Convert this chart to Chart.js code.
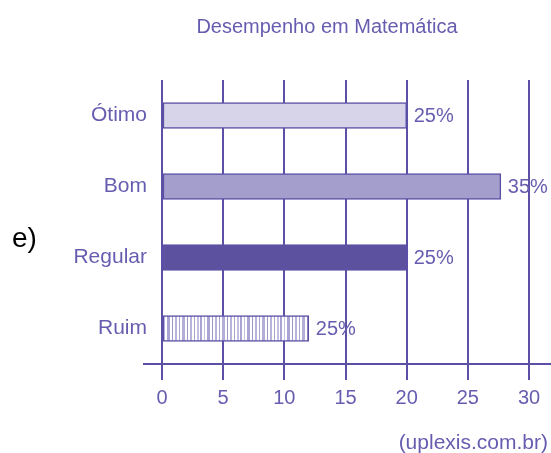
<!DOCTYPE html>
<html>
<head>
<meta charset="utf-8">
<script src="https://cdn.jsdelivr.net/npm/chart.js@4"></script>
<style>
    html, body { margin: 0; padding: 0; background: #fff; }
    #wrap { width: 551px; height: 453px; position: relative; }
</style>
</head>
<body>
<div id="wrap"><canvas id="chart"></canvas></div>
<script>
// dados do gráfico
const categories = ['Ótimo', 'Bom', 'Regular', 'Ruim'];
const values = [20, 27.7, 20, 12];
const pctLabels = ['25%', '35%', '25%', '25%'];
const tickValues = [0, 5, 10, 15, 20, 25, 30];

const ink = '#5b50a6';
const textColor = '#665db0';
const font = 'Liberation Sans, Arial, sans-serif';

// padrão listrado para a barra "Ruim"
function stripePattern() {
    const c = document.createElement('canvas');
    c.width = 40;
    c.height = 30;
    const g = c.getContext('2d');
    g.fillStyle = '#ffffff';
    g.fillRect(0, 0, 40, 30);
    const stripes = [[0, 2, '#aaa4d4'], [4, 1, '#c4c0e3'], [7, 3, '#aaa4d4'], [12, 1, '#9f98cf'],
        [15, 2, '#b8b3dc'], [19, 1, '#aaa4d4'], [22, 3, '#b3aed8'], [27, 1, '#9f98cf'],
        [30, 2, '#b8b3dc'], [34, 1, '#aaa4d4'], [37, 2, '#c4c0e3']];
    stripes.forEach(s => {
        g.fillStyle = s[2];
        g.fillRect(s[0], 0, s[1], 30);
    });
    return g.createPattern(c, 'repeat');
}

const fills = ['#d7d4ea', '#a49ecc', '#5c519f', stripePattern()];

// textos extras e linha do eixo
const extras = {
    id: 'extras',
    afterDraw(chart) {
        const ctx = chart.ctx;
        const area = chart.chartArea;
        ctx.save();

        // linha do eixo x, passa um pouco do zero à esquerda
        ctx.strokeStyle = ink;
        ctx.lineWidth = 2;
        ctx.beginPath();
        ctx.moveTo(area.left - 19, area.bottom);
        ctx.lineTo(chart.width, area.bottom);
        ctx.stroke();

        // rótulos de porcentagem
        ctx.fillStyle = textColor;
        ctx.font = '20px ' + font;
        ctx.textAlign = 'left';
        ctx.textBaseline = 'middle';
        chart.getDatasetMeta(0).data.forEach((bar, i) => {
            ctx.fillText(pctLabels[i], bar.x + 7, bar.y + 1);
        });

        // título
        ctx.textAlign = 'center';
        ctx.fillText('Desempenho em Matemática', 327, 27);

        // fonte
        ctx.textAlign = 'right';
        ctx.font = '21px ' + font;
        ctx.fillText('(uplexis.com.br)', 548, 443);

        // letra da alternativa
        ctx.fillStyle = '#000';
        ctx.font = '28px ' + font;
        ctx.textAlign = 'left';
        ctx.textBaseline = 'alphabetic';
        ctx.fillText('e)', 12, 247);
        ctx.restore();
    }
};

new Chart(document.getElementById('chart'), {
    type: 'bar',
    data: {
        labels: categories,
        datasets: [{
            data: values,
            backgroundColor: fills,
            borderColor: ink,
            borderWidth: 1.5,
            borderSkipped: false,
            barThickness: 26
        }]
    },
    options: {
        indexAxis: 'y',
        responsive: true,
        maintainAspectRatio: false,
        animation: false,
        layout: { padding: { top: 80, right: 22, left: 0, bottom: 0 } },
        plugins: {
            legend: { display: false },
            title: { display: false },
            tooltip: { enabled: false }
        },
        scales: {
            x: {
                min: 0,
                max: 30,
                afterBuildTicks: scale => {
                    scale.ticks = tickValues.map(v => ({ value: v }));
                },
                afterFit: scale => { scale.height = 89; },
                grid: {
                    color: ink,
                    lineWidth: 2,
                    drawTicks: true,
                    tickLength: 16
                },
                border: { display: false },
                ticks: {
                    color: textColor,
                    font: { family: font, size: 20 },
                    padding: 6
                }
            },
            y: {
                afterFit: scale => { scale.width = 162; },
                grid: { display: false, drawTicks: false },
                border: { display: false },
                ticks: {
                    color: textColor,
                    font: { family: font, size: 21 },
                    padding: 15
                }
            }
        }
    },
    plugins: [extras]
});
</script>
</body>
</html>
